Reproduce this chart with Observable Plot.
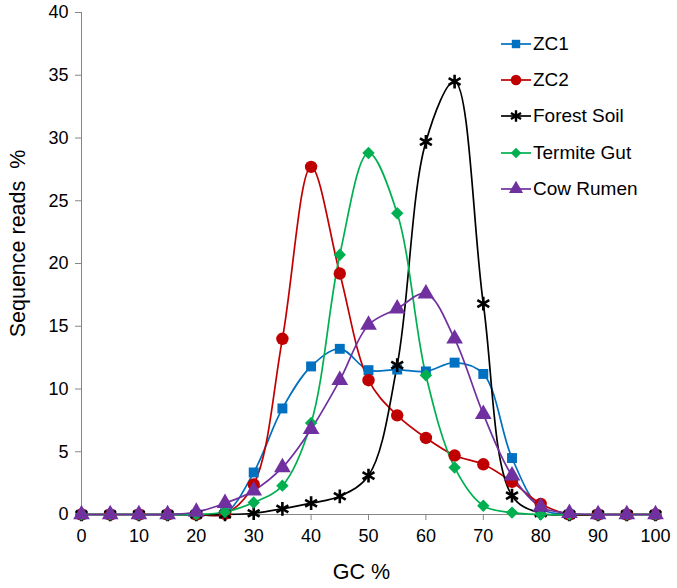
<!DOCTYPE html>
<html>
<head>
<meta charset="utf-8">
<script src="https://cdn.jsdelivr.net/npm/d3@7"></script>
<script src="https://cdn.jsdelivr.net/npm/@observablehq/plot@0.6"></script>
<style>
  body { margin: 0; background: #fff; font-family: "Liberation Sans", Arial, sans-serif; }
  #wrap { position: relative; width: 677px; height: 588px; }
  #legend { position: absolute; left: 501px; top: 26px; font-size: 19px; color: #000; }
  #legend .row { display: flex; align-items: center; height: 36.2px; }
  #legend svg { display: block; margin-right: 2px; }
</style>
</head>
<body>
<div id="wrap"><div id="legend"></div></div>
<script>
const gc = [0,5,10,15,20,25,30,35,40,45,50,55,60,65,70,75,80,85,90,95,100];
const seriesNames = ["ZC1","ZC2","Forest Soil","Termite Gut","Cow Rumen"];
const zc1        = [0,0,0,0,0,0.1,3.35,8.45,11.8,13.2,11.5,11.55,11.4,12.1,11.2,4.5,0.5,0,0,0,0];
const zc2        = [0,0,0,0,0,0.05,2.4,14.0,27.7,19.2,10.7,7.9,6.1,4.7,4.0,2.6,0.85,0,0,0,0];
const forestSoil = [0,0,0,0,0,0,0.1,0.45,0.9,1.45,3.1,11.9,29.7,34.5,16.8,1.5,0.1,0,0,0,0];
const termiteGut = [0,0,0,0,0,0.2,0.95,2.3,7.3,20.7,28.8,24.0,11.1,3.75,0.7,0.15,0,0,0,0,0];
const cowRumen   = [0,0,0,0,0.2,0.9,1.9,3.75,6.8,10.7,15.1,16.4,17.6,14.0,8.0,3.1,0.6,0.1,0,0,0];
const yTicks = [0,5,10,15,20,25,30,35,40];
const xTicks = [0,10,20,30,40,50,60,70,80,90,100];

const allValues = [zc1, zc2, forestSoil, termiteGut, cowRumen];
const colors = ["#0070C0","#C00000","#000000","#00B050","#7030A0"];
const symbols = ["square","circle","asterisk","diamond2","triangle"];
const radii = [5.6, 6.2, 6.5, 5.6, 6.2];

const rows = [];
seriesNames.forEach((name, i) => {
  gc.forEach((x, j) => rows.push({series: name, gc: x, reads: allValues[i][j]}));
});

const marks = [
  Plot.ruleX([0], {stroke: "#868686"}),
  Plot.ruleY([0], {stroke: "#868686"}),
  Plot.axisY({ticks: yTicks, tickSize: 6, tickPadding: 7, fontSize: 18, stroke: "#868686", label: null}),
  Plot.axisX({ticks: xTicks, tickSize: 6, tickPadding: 9, fontSize: 18, stroke: "#868686", label: null}),
  Plot.text(["Sequence reads  %"], {frameAnchor: "left", rotate: -90, dx: -63, dy: -20, fontSize: 21.5, textAnchor: "middle", lineAnchor: "middle"}),
  Plot.text(["GC %"], {frameAnchor: "bottom", dx: -7, dy: 58, fontSize: 21.5, textAnchor: "middle", lineAnchor: "middle"})
];
seriesNames.forEach((name, i) => {
  const d = rows.filter(r => r.series === name);
  marks.push(Plot.line(d, {x: "gc", y: "reads", stroke: colors[i], strokeWidth: 1.7, curve: "catmull-rom"}));
});
seriesNames.forEach((name, i) => {
  const d = rows.filter(r => r.series === name);
  if (symbols[i] === "asterisk") {
    marks.push(Plot.dot(d, {x: "gc", y: "reads", symbol: "asterisk", r: radii[i], stroke: colors[i], strokeWidth: 2.6, fill: "none"}));
  } else {
    marks.push(Plot.dot(d, {x: "gc", y: "reads", symbol: symbols[i], r: radii[i], fill: colors[i], stroke: "none"}));
  }
});

const chart = Plot.plot({
  width: 677,
  height: 588,
  marginLeft: 81,
  marginRight: 22,
  marginTop: 12,
  marginBottom: 74,
  style: {fontFamily: "'Liberation Sans', Arial, sans-serif", fontSize: "18px", color: "#000", background: "#fff"},
  x: {domain: [0, 100]},
  y: {domain: [0, 40]},
  marks
});
document.getElementById("wrap").prepend(chart);

// legend
const legend = document.getElementById("legend");
const symMap = {square: d3.symbolSquare, circle: d3.symbolCircle, asterisk: d3.symbolAsterisk, diamond2: d3.symbolDiamond2, triangle: d3.symbolTriangle};
seriesNames.forEach((name, i) => {
  const row = document.createElement("div");
  row.className = "row";
  const w = 30, h = 20;
  const svg = d3.create("svg").attr("width", w).attr("height", h);
  svg.append("line").attr("x1", 0).attr("x2", w).attr("y1", h / 2).attr("y2", h / 2).attr("stroke", colors[i]).attr("stroke-width", 1.7);
  const size = Math.PI * Math.pow(radii[i] * 0.85, 2);
  const p = svg.append("path").attr("transform", `translate(${w / 2},${h / 2})`).attr("d", d3.symbol(symMap[symbols[i]], size)());
  if (symbols[i] === "asterisk") p.attr("stroke", colors[i]).attr("stroke-width", 2.4).attr("fill", "none");
  else p.attr("fill", colors[i]);
  row.appendChild(svg.node());
  const span = document.createElement("span");
  span.textContent = name;
  row.appendChild(span);
  legend.appendChild(row);
});
</script>
</body>
</html>
